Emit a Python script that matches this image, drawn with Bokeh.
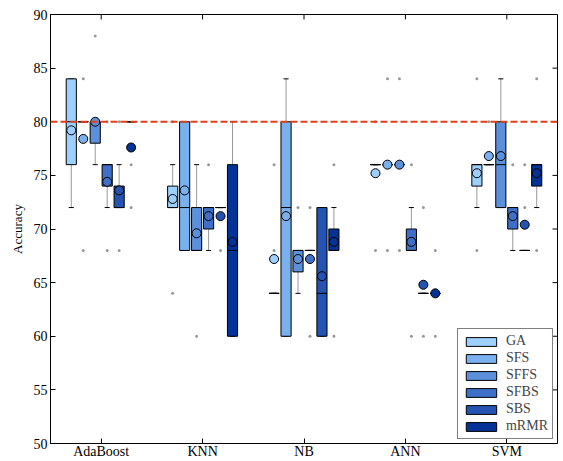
from bokeh.plotting import figure
from bokeh.models import FixedTicker, Span, Range1d, Legend, LegendItem, ColumnDataSource
from bokeh.embed import file_html
from bokeh.resources import INLINE

classifiers = ["AdaBoost", "KNN", "NB", "ANN", "SVM"]
methods = ["GA", "SFS", "SFFS", "SFBS", "SBS", "mRMR"]
colors = ["#9DD0FF", "#7BB0EE", "#5C90DC", "#3E70C8", "#2453B2", "#053296"]
threshold = 80
yticks = [50, 55, 60, 65, 70, 75, 80, 85, 90]

# per method: values per classifier (AdaBoost, KNN, NB, ANN, SVM)
ga_q1 = [76, 72, 64, 76, 74]
ga_med = [80, 72, 64, 76, 76]
ga_q3 = [84, 74, 64, 76, 76]
ga_lo = [72, 72, 64, 76, 72]
ga_hi = [84, 76, 64, 76, 76]
ga_mean = [79.2, 72.8, 67.2, 75.2, 75.2]
ga_out = [[], [64, 80], [68, 76], [80, 68], [84, 68]]

sfs_q1 = [80, 68, 60, 76, 76]
sfs_med = [80, 72, 72, 76, 76]
sfs_q3 = [80, 80, 80, 76, 76]
sfs_lo = [80, 68, 60, 76, 76]
sfs_hi = [80, 80, 84, 76, 76]
sfs_mean = [78.4, 73.6, 71.2, 76.0, 76.8]
sfs_out = [[84, 68], [], [], [84, 68], [80]]

sffs_q1 = [78, 68, 66, 76, 72]
sffs_med = [80, 68, 68, 76, 76]
sffs_q3 = [80, 72, 68, 76, 80]
sffs_lo = [76, 68, 64, 76, 72]
sffs_hi = [80, 76, 68, 76, 84]
sffs_mean = [80.0, 69.6, 67.2, 76.0, 76.8]
sffs_out = [[88], [60], [72], [84, 68], []]

sfbs_q1 = [74, 70, 68, 68, 70]
sfbs_med = [76, 72, 68, 68, 72]
sfbs_q3 = [76, 72, 68, 70, 72]
sfbs_lo = [72, 68, 68, 68, 68]
sfbs_hi = [76, 72, 68, 72, 72]
sfbs_mean = [74.4, 71.2, 67.2, 68.8, 71.2]
sfbs_out = [[80, 68], [76], [72, 60], [76, 60], [76]]

sbs_q1 = [72, 72, 60, 64, 68]
sbs_med = [72, 72, 64, 64, 68]
sbs_q3 = [74, 72, 72, 64, 68]
sbs_lo = [72, 72, 60, 64, 68]
sbs_hi = [76, 72, 72, 64, 68]
sbs_mean = [73.6, 71.2, 65.6, 64.8, 70.4]
sbs_out = [[80, 68], [68], [], [72, 60], [76, 72]]

mrmr_q1 = [80, 60, 68, 64, 74]
mrmr_med = [80, 68, 68, 64, 76]
mrmr_q3 = [80, 76, 70, 64, 76]
mrmr_lo = [80, 60, 68, 64, 72]
mrmr_hi = [80, 80, 72, 64, 76]
mrmr_mean = [77.6, 68.8, 68.8, 64.0, 75.2]
mrmr_out = [[76, 72], [], [76, 60], [68, 60], [84, 68]]

stats = [
    (ga_q1, ga_med, ga_q3, ga_lo, ga_hi, ga_mean, ga_out),
    (sfs_q1, sfs_med, sfs_q3, sfs_lo, sfs_hi, sfs_mean, sfs_out),
    (sffs_q1, sffs_med, sffs_q3, sffs_lo, sffs_hi, sffs_mean, sffs_out),
    (sfbs_q1, sfbs_med, sfbs_q3, sfbs_lo, sfbs_hi, sfbs_mean, sfbs_out),
    (sbs_q1, sbs_med, sbs_q3, sbs_lo, sbs_hi, sbs_mean, sbs_out),
    (mrmr_q1, mrmr_med, mrmr_q3, mrmr_lo, mrmr_hi, mrmr_mean, mrmr_out),
]

FONT = "Liberation Serif"
step = 0.118
box_w = 0.1
cap_w = 0.05

XMIN, XMAX = 0.5, len(classifiers) + 0.5
YMIN, YMAX = yticks[0], yticks[-1]
W, H = 563, 461
BL, BR, BT, BB = 50, 6, 14, 18
frame_w = W - BL - BR
frame_h = H - BT - BB

p = figure(width=W, height=H, x_range=Range1d(XMIN, XMAX), y_range=Range1d(YMIN, YMAX),
           output_backend="svg", toolbar_location=None,
           min_border_left=BL, min_border_right=BR, min_border_top=BT, min_border_bottom=BB)
p.xgrid.visible = False
p.ygrid.visible = False
p.outline_line_color = "black"
p.outline_line_width = 1
p.background_fill_color = "white"

xticks = list(range(1, len(classifiers) + 1))

p.xaxis.ticker = FixedTicker(ticks=xticks)
p.xaxis.major_label_overrides = {i + 1: c for i, c in enumerate(classifiers)}
p.yaxis.ticker = FixedTicker(ticks=yticks)
p.yaxis.axis_label = "Accuracy"
for ax in (p.xaxis[0], p.yaxis[0]):
    ax.axis_line_color = "black"
    ax.major_tick_in = 5
    ax.major_tick_out = 0
    ax.minor_tick_line_color = None
    ax.major_tick_line_color = "black"
    ax.major_label_text_font = FONT
    ax.major_label_text_font_size = "14px"
    ax.major_label_text_color = "black"
    ax.major_label_standoff = 3
p.yaxis.axis_label_text_font = FONT
p.yaxis.axis_label_text_font_size = "13px"
p.yaxis.axis_label_text_font_style = "normal"
p.yaxis.axis_label_text_color = "black"
p.yaxis.axis_label_standoff = 6
p.xaxis.major_label_standoff = 0

# inward ticks on the right and top edges (MATLAB box style)
tick_px = 5
dx = tick_px * (XMAX - XMIN) / frame_w
dy = tick_px * (YMAX - YMIN) / frame_h
p.segment(x0=[XMAX] * len(yticks), y0=yticks, x1=[XMAX - dx] * len(yticks), y1=yticks,
          line_color="black", line_width=1)
p.segment(x0=xticks, y0=[YMAX] * len(xticks), x1=xticks, y1=[YMAX - dy] * len(xticks),
          line_color="black", line_width=1)

legend_items = []
for j, (m, col, st) in enumerate(zip(methods, colors, stats)):
    q1, med, q3, lo, hi, mean, out = st
    off = (j - (len(methods) - 1) / 2) * step
    xs = [i + 1 + off for i in range(len(classifiers))]
    src = ColumnDataSource(dict(
        x=xs, q1=q1, med=med, q3=q3, lo=lo, hi=hi, mean=mean,
        xl=[x - box_w / 2 for x in xs], xr=[x + box_w / 2 for x in xs],
        cl=[x - cap_w / 2 for x in xs], cr=[x + cap_w / 2 for x in xs],
    ))
    p.segment(x0="x", y0="q3", x1="x", y1="hi", source=src, line_color="#9a9a9a", line_width=1)
    p.segment(x0="x", y0="q1", x1="x", y1="lo", source=src, line_color="#9a9a9a", line_width=1)
    p.segment(x0="cl", y0="hi", x1="cr", y1="hi", source=src, line_color="black", line_width=1)
    p.segment(x0="cl", y0="lo", x1="cr", y1="lo", source=src, line_color="black", line_width=1)
    r = p.vbar(x="x", width=box_w, top="q3", bottom="q1", source=src,
               fill_color=col, line_color="black", line_width=1)
    legend_items.append(LegendItem(label=m, renderers=[r]))
    p.segment(x0="xl", y0="med", x1="xr", y1="med", source=src, line_color="black", line_width=1)
    ox = []
    oy = []
    for x, vals in zip(xs, out):
        for v in vals:
            ox.append(x)
            oy.append(v)
    p.scatter(ox, oy, size=3, color="#999999", line_color=None)
    p.scatter(x="x", y="mean", source=src, size=9, fill_color=col, line_color="black", line_width=1)

p.add_layout(Span(location=threshold, dimension="width", line_color="#E0401A",
                  line_dash="7 3", line_width=2))

legend = Legend(items=legend_items, location="bottom_right")
legend.border_line_color = "black"
legend.border_line_width = 1
legend.background_fill_alpha = 1
legend.label_text_font = FONT
legend.label_text_font_size = "14px"
legend.glyph_width = 38
legend.glyph_height = 11
legend.label_height = 11
legend.spacing = 1
legend.padding = 4
legend.margin = 4
legend.label_standoff = 6
p.add_layout(legend)

open("out.html", "w").write(file_html(p, INLINE))
